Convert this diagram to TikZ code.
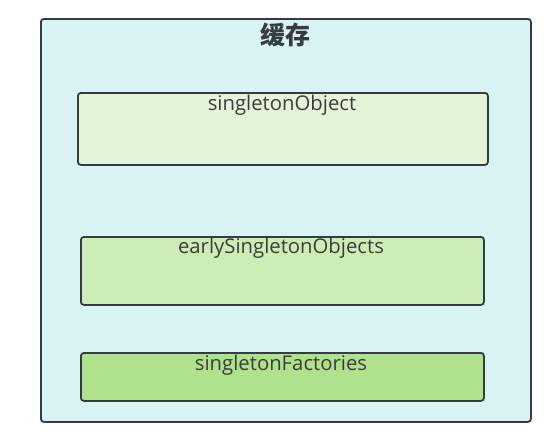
\documentclass[tikz,border=0pt]{standalone}
\usepackage{fontspec}
\setmainfont{Open Sans}
\newfontfamily\cjk{Noto Sans CJK SC}
\usetikzlibrary{positioning}
\definecolor{cachefill}{RGB}{217,243,244}
\definecolor{edge}{RGB}{52,60,66}
\definecolor{lvlone}{RGB}{227,244,216}
\definecolor{lvltwo}{RGB}{205,237,183}
\definecolor{lvlthree}{RGB}{174,226,140}
\definecolor{txt}{RGB}{60,60,60}
\tikzset{
  pane/.style={draw=edge,line width=1.8pt,rounded corners=3pt,anchor=north west,inner sep=0pt},
  boxtext/.style={text=txt,font=\fontsize{20.3}{22}\selectfont,inner sep=0pt,anchor=base}
}
\begin{document}
\begin{tikzpicture}[x=1pt,y=-1pt]
  \useasboundingbox (0,0) rectangle (545,432);
  % outer cache frame
  \node[pane,fill=cachefill,minimum width=490pt,minimum height=403pt] (cache) at (40,18) {};
  \node[text=edge,font=\cjk\bfseries\fontsize{25}{27}\selectfont,anchor=base,inner sep=0pt] (title) at (285,44) {缓存};
  % three levels
  \node[pane,fill=lvlone,minimum width=410pt,minimum height=72pt] (objs) at (77,92) {};
  \node[boxtext] (objslbl) at (282,110) {singletonObject};
  \node[pane,fill=lvltwo,minimum width=403pt,minimum height=68pt] (early) at (80,236) {};
  \node[boxtext] (earlylbl) at (281,253) {earlySingletonObjects};
  \node[pane,fill=lvlthree,minimum width=403pt,minimum height=48pt] (facts) at (80,352) {};
  \node[boxtext] (factslbl) at (281,370) {singletonFactories};
\end{tikzpicture}
\end{document}
